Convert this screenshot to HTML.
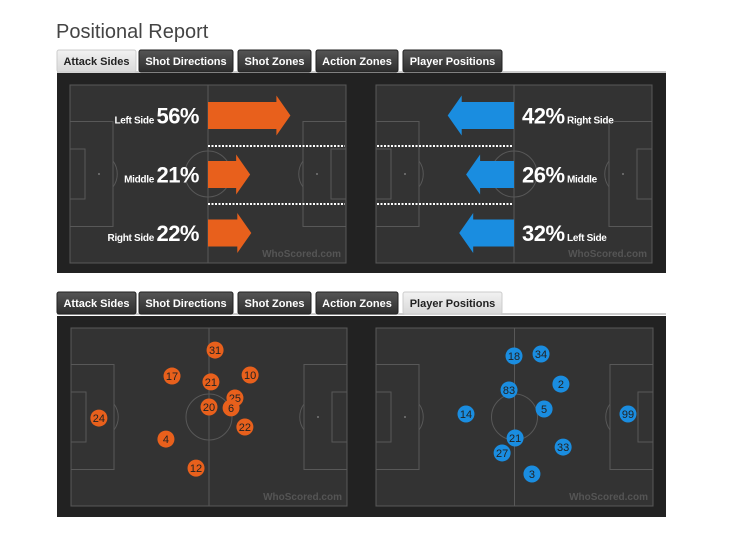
<!DOCTYPE html>
<html><head><meta charset="utf-8">
<style>
html,body{margin:0;padding:0;background:#fff;width:730px;height:548px;overflow:hidden}
svg{display:block;font-family:"Liberation Sans",Arial,sans-serif}
.tab text{font-weight:bold;font-size:11px}
.lbl tspan{font-weight:bold}
</style></head>
<body>
<svg id="chart" width="730" height="548" viewBox="0 0 730 548">
<defs>
<linearGradient id="tabDark" x1="0" y1="0" x2="0" y2="1"><stop offset="0" stop-color="#555"/><stop offset="1" stop-color="#2e2e2e"/></linearGradient>
<linearGradient id="tabLight" x1="0" y1="0" x2="0" y2="1"><stop offset="0" stop-color="#f2f2f2"/><stop offset="1" stop-color="#d8d8d8"/></linearGradient>
</defs>
<text x="56" y="38" font-size="20" fill="#444">Positional Report</text>
<g id="layer"></g>
</svg>
<script>
// ---- data ----
const tabLabels = ["Attack Sides","Shot Directions","Shot Zones","Action Zones","Player Positions"];
const homeSideLabels = ["Left Side","Middle","Right Side"];
const homeSidePct = [56,21,22];
const awaySideLabels = ["Right Side","Middle","Left Side"];
const awaySidePct = [42,26,32];
const homePlayers = ["31","17","21","10","25","6","20","24","22","4","12"];
const homeX = [52.2,36.6,50.7,64.9,59.4,58,50,10.1,63,34.4,45.3];
const homeY = [12.4,27,30.3,26.4,39.3,44.9,44.4,50.6,55.6,62.4,78.7];
const awayPlayers = ["18","34","2","83","5","14","99","21","33","27","3"];
const awayX = [50,59.8,67,48.2,60.9,32.6,91.3,50.4,67.8,45.7,56.5];
const awayY = [15.7,14.6,31.5,34.8,45.5,48.3,48.3,61.8,66.9,70.2,82];

const NS="http://www.w3.org/2000/svg";
const layer=document.getElementById('layer');
function mk(tag,attrs,parent){const e=document.createElementNS(NS,tag);for(const k in attrs)e.setAttribute(k,attrs[k]);(parent||layer).appendChild(e);return e;}

const tabX=[57,139,238,316,403], tabW=[79,94,73,82,99];
function tabs(y,active,group){
  mk('line',{x1:57,y1:y+22,x2:666,y2:y+22,stroke:'#bbb','stroke-width':1.5},group);
  tabLabels.forEach((t,i)=>{
    const g=mk('g',{class:'tab'},group);
    
    
    const on=i===active;
    mk('rect',{x:tabX[i],y:y,width:tabW[i],height:22,rx:2,fill:on?'url(#tabLight)':'url(#tabDark)',stroke:on?'#ccc':'#222'},g);
    const tx=mk('text',{x:tabX[i]+tabW[i]/2,y:y+15,'text-anchor':'middle',fill:on?'#222':'#fff'},g);
    tx.textContent=t;
  });
}
function pitch(x0,y0,w,h,parent){
  const g=mk('g',{},parent);
  
  
  const s={stroke:'#585858','stroke-width':1,fill:'none'};
  mk('rect',{x:x0,y:y0,width:w,height:h,fill:'#333'},g);
  mk('rect',Object.assign({x:x0,y:y0,width:w,height:h},s),g);
  mk('line',Object.assign({x1:x0+w/2,y1:y0,x2:x0+w/2,y2:y0+h},s),g);
  mk('circle',Object.assign({cx:x0+w/2,cy:y0+h/2,r:23},s),g);
  const bh=105*h/178, bw=43, sh=50*h/178, sw=15, cy=y0+h/2;
  mk('rect',Object.assign({x:x0,y:cy-bh/2,width:bw,height:bh},s),g);
  mk('rect',Object.assign({x:x0,y:cy-sh/2,width:sw,height:sh},s),g);
  mk('rect',Object.assign({x:x0+w-bw,y:cy-bh/2,width:bw,height:bh},s),g);
  mk('rect',Object.assign({x:x0+w-sw,y:cy-sh/2,width:sw,height:sh},s),g);
  mk('path',Object.assign({d:`M${x0+bw},${cy-13} A22,22 0 0 1 ${x0+bw},${cy+13}`},s),g);
  mk('path',Object.assign({d:`M${x0+w-bw},${cy-13} A22,22 0 0 0 ${x0+w-bw},${cy+13}`},s),g);
  mk('circle',{cx:x0+29,cy:cy,r:1,fill:'#777'},g);
  mk('circle',{cx:x0+w-29,cy:cy,r:1,fill:'#777'},g);
  const wm=mk('text',{x:x0+w-5,y:y0+h-6,'text-anchor':'end','font-size':10,'font-weight':'bold',fill:'#555'},g);
  wm.textContent='WhoScored.com';
  return g;
}

// ---- top panel ----
tabs(50,0,layer);
mk('rect',{x:57,y:73,width:609,height:200,fill:'#222'});
pitch(70,85,276,178);
pitch(376,85,276,178);
const rowY=[115.5,174.5,233];
function arrowLen(p){return 18+1.15*p;}
[146,204].forEach(y=>{
  mk('line',{x1:208,y1:y,x2:345,y2:y,stroke:'#fff','stroke-width':2,'stroke-dasharray':'2,1.5'});
  mk('line',{x1:377,y1:y,x2:513,y2:y,stroke:'#fff','stroke-width':2,'stroke-dasharray':'2,1.5'});
});
homeSidePct.forEach((p,i)=>{
  const L=arrowLen(p), x=208, y=rowY[i], tip=x+L, hs=tip-14;
  const a=mk('polygon',{points:`${x},${y-13.5} ${hs},${y-13.5} ${hs},${y-20} ${tip},${y} ${hs},${y+20} ${hs},${y+13.5} ${x},${y+13.5}`,fill:'#e8601c'});
  
  
  const t=mk('text',{class:'lbl',x:199,y:y+8,'text-anchor':'end',fill:'#fff','font-weight':'bold'});
  
  
  const s1=mk('tspan',{'font-size':10,'font-weight':'bold','letter-spacing':'-0.3'},t); s1.textContent=homeSideLabels[i]+' ';
  const s2=mk('tspan',{'font-size':22,'font-weight':'bold','letter-spacing':'-0.5'},t); s2.textContent=p+'%';
});
awaySidePct.forEach((p,i)=>{
  const L=arrowLen(p), x=514, y=rowY[i], tip=x-L, hs=tip+14;
  const a=mk('polygon',{points:`${x},${y-13.5} ${hs},${y-13.5} ${hs},${y-20} ${tip},${y} ${hs},${y+20} ${hs},${y+13.5} ${x},${y+13.5}`,fill:'#1a8de0'});
  
  
  const t=mk('text',{class:'lbl',x:522,y:y+8,fill:'#fff','font-weight':'bold'});
  
  
  const s2=mk('tspan',{'font-size':22,'font-weight':'bold','letter-spacing':'-0.5'},t); s2.textContent=p+'%';
  const s1=mk('tspan',{'font-size':10,'font-weight':'bold','letter-spacing':'-0.3'},t); s1.textContent=' '+awaySideLabels[i];
});

// ---- bottom panel ----
tabs(292,4,layer);
mk('rect',{x:57,y:316,width:609,height:201,fill:'#222'});
pitch(71,328,276,178);
pitch(376,328,277,178);
function dots(names,xs,ys,x0,color,side){
  names.forEach((n,i)=>{
    const cx=x0+xs[i]/100*276, cy=328+ys[i]/100*178;
    const g=mk('g',{});
    
    
    mk('circle',{cx:cx,cy:cy,r:8.5,fill:color},g);
    const t=mk('text',{x:cx,y:cy+4,'text-anchor':'middle','font-size':11,fill:'#222'},g);
    t.textContent=n;
  });
}
dots(homePlayers,homeX,homeY,71,'#e8601c','home');
dots(awayPlayers,awayX,awayY,376,'#1a8de0','away');
</script>
</body></html>
